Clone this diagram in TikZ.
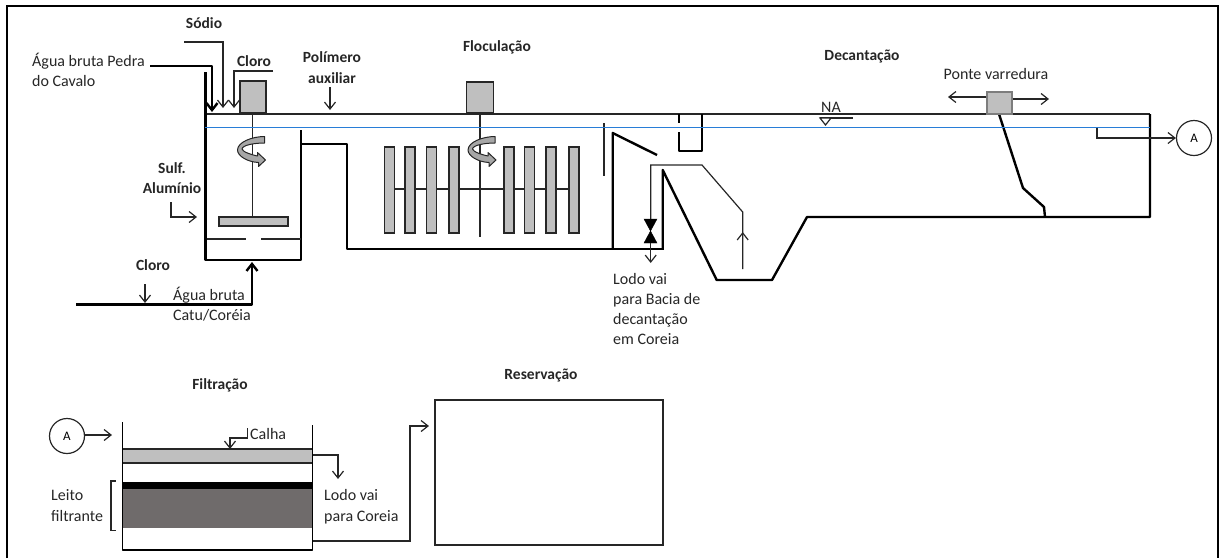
\documentclass[tikz,border=0pt]{standalone}
\usepackage{fontspec}
\setmainfont{Carlito}
\usetikzlibrary{arrows.meta}

\begin{document}
\begin{tikzpicture}[x=1pt, y=-1pt, >={Straight Barb[length=7pt,width=11pt]},
    thinLine/.style={draw=lineColour, line width=1.2pt},
    wallLine/.style={draw=black, line width=2.4pt, line join=round},
    grayBox/.style={draw=lineColour, fill=boxColour, line width=1.4pt},
    label/.style={font=\fontsize{16}{17}\selectfont, text=textColour, inner sep=0pt, align=left},
    title/.style={font=\bfseries\fontsize{15.5}{17}\selectfont, text=textColour, inner sep=0pt, align=center},
    letterCircle/.style={circle, draw=lineColour, line width=1.2pt, minimum size=35pt, inner sep=0pt, font=\fontsize{13}{15}\selectfont}]

    \definecolor{lineColour}{HTML}{262626}
    \definecolor{textColour}{HTML}{262626}
    \definecolor{boxColour}{HTML}{BFBFBF}
    \definecolor{waterColour}{RGB}{40,125,215}
    \definecolor{bedColour}{HTML}{6F6B6B}
    \definecolor{spinColour}{HTML}{A6A6A6}

    \useasboundingbox (0,0) rectangle (1221,558);

    % Draw outer frame
    \draw[line width=1.6pt] (7,558) -- (7,6) -- (1218,6) -- (1218,558);

    % Draw top line
    \draw[thinLine, line width=1.4pt] (207,114) -- (1150,114);

    % Draw mixing tank
    \draw[wallLine] (205.5,72) -- (205.5,260) -- (301,260) -- (301,130);
    \draw[thinLine] (207,239) -- (246,239) (261,239) -- (301,239);
    \draw[wallLine] (301,144) -- (347,144) -- (347,249) -- (664,249);

    % Draw mixer shafts
    \draw[thinLine] (252.5,113) -- (252.5,217);
    \draw[thinLine] (480,113) -- (480,237);
    \draw[thinLine] (394,189) -- (569,189);
    \node[grayBox, minimum width=26pt, minimum height=32pt, inner sep=0pt] (motorMix) at (253,97) {};
    \node[grayBox, minimum width=27pt, minimum height=31pt, inner sep=0pt] (motorFloc) at (480,97.5) {};
    \draw[grayBox] (219,217) rectangle (288,226);

    % Draw flocculation bars
    \foreach \x in {384.5,405,426.5,449,504,524.5,546,569}
        \draw[grayBox] (\x,147) rectangle (\x+10,233);

    % Draw settling tank walls
    \draw[thinLine, line width=1.5pt] (604,123) -- (604,176);
    \draw[wallLine] (612.7,249) -- (612.7,133) -- (657,155);
    \draw[wallLine] (662.7,249) -- (662.7,170) -- (716.7,280) -- (772,280) -- (807,217) -- (1150,217) -- (1150,114);
    \draw[wallLine, line width=1.8pt] (678.7,114) -- (678.7,123) (678.7,132) -- (678.7,150.7) -- (702,150.7) -- (702,114);

    % Draw sludge pipe and valve
    \draw[thinLine] (650.7,219) -- (650.7,165) -- (702,165) -- (742.7,212) -- (742.7,269);
    \draw[thinLine, ->] (742.7,269) -- (742.7,232);
    \draw[fill=black] (644,219) -- (657,219) -- (644,243) -- (657,243) -- cycle;
    \draw[thinLine, ->] (650.7,243) -- (650.7,263);

    % Draw sweeper bridge
    \draw[wallLine] (999,114) -- (1023,188) -- (1044,207) -- (1045,217);
    \node[grayBox, draw=lineColour!60, minimum width=25pt, minimum height=22pt, inner sep=0pt] (bridge) at (999.5,103) {};
    \coordinate (bridgeLeft) at (948,97);
    \coordinate (bridgeRight) at (1049,99);
    \draw[thinLine, ->] (bridge.west |- bridgeLeft) -- (bridgeLeft);
    \draw[thinLine, ->] (bridge.east |- bridgeRight) -- (bridgeRight);

    % Draw water level
    \fill[waterColour] (205,126.8) rectangle (1150,128.2);

    % Draw rotation symbols
    \foreach \cx in {252.5,483}
        \draw[draw=lineColour, fill=spinColour, line width=1pt, line join=round, shift={(\cx,150)}]
            (12,-13.5) -- (12,-7) .. controls (2,-7) and (-10,-5) .. (-10.5,-1)
            .. controls (-10,2) and (0,5) .. (5,6) -- (5,2.5) -- (13,10) -- (6,16.5) -- (6,12.5)
            .. controls (-5,12) and (-15,6) .. (-15,0)
            .. controls (-15,-8) and (0,-13.5) .. (12,-13.5) -- cycle;

    % Draw water level mark
    \draw[thinLine] (820,118) -- (853,118);
    \draw[thinLine, fill=white] (820,118) -- (831,118) -- (825.5,125) -- cycle;

    % Draw outlet
    \node[letterCircle] (outA) at (1194,138) {A};
    \draw[thinLine] (1097,127.5) -- (1097,138) -- (1150,138);
    \draw[thinLine, ->] (1150,138) -- (outA.west);

    % Draw inlets
    \draw[wallLine, ->] (150,66) -- (212,66) -- (212,112);
    \draw[thinLine, ->] (184,42) -- (223,42) -- (223,108);
    \draw[thinLine, ->] (273,71) -- (234,71) -- (234,108);
    \draw[thinLine, ->] (330,87) -- (330,110);
    \draw[thinLine, ->] (171,202) -- (171,217) -- (197,217);
    \draw[thinLine, ->] (145,284) -- (145,303);
    \draw[wallLine, ->] (76,304.5) -- (252,304.5) -- (252,262);

    % Draw filter
    \draw[draw=lineColour, fill=boxColour, line width=1.2pt] (122.5,449) rectangle (312.5,463);
    \fill[bedColour] (122.5,489) rectangle (312.5,528);
    \fill[black] (122.5,482) rectangle (312.5,489);
    \draw[wallLine, line width=1.9pt] (122.5,422) -- (122.5,550) -- (312.5,550) -- (312.5,425);
    \draw[thinLine] (115.5,481) -- (111,481) -- (111,530.5) -- (115.5,530.5);
    \draw[thinLine, ->] (247.5,428) -- (247.5,438) -- (230,438) -- (230,449);
    \draw[thinLine, ->] (312.5,455) -- (338,455) -- (338,479);

    % Draw filter inlet and reservoir
    \node[letterCircle] (inA) at (67,436) {A};
    \coordinate (filterIn) at (112,435);
    \draw[thinLine, ->] (inA.east |- filterIn) -- (filterIn);
    \node[draw=lineColour, line width=1.4pt, minimum width=228pt, minimum height=145pt, inner sep=0pt] (reservoir) at (549,472.5) {};
    \coordinate (reservoirIn) at (429,426);
    \draw[thinLine, ->] (312.5,541) -- (410,541) -- (410,426) -- (reservoirIn);

    % Label titles
    \node[title] (tSodio) at (204,23) {Sódio};
    \node[title] (tCloroTop) at (254,61) {Cloro};
    \node[title] (tPolimero) at (332,67.5) {Polímero\\[3.5pt]auxiliar};
    \node[title] (tFloc) at (497,47) {Floculação};
    \node[title] (tDecant) at (862,57) {Decantação};
    \node[title] (tSulf) at (172,178) {Sulf.\\[3.5pt]Alumínio};
    \node[title] (tCloroLow) at (153,265) {Cloro};
    \node[title] (tFiltro) at (220,385) {Filtração};
    \node[title] (tReserva) at (541,376) {Reservação};

    % Label texts
    \node[label, anchor=west] (lPedra) at (32,70) {Água bruta Pedra\\[3.5pt]do Cavalo};
    \node[label, anchor=west] (lCatu) at (173,304) {Água bruta\\[3.5pt]Catu/Coréia};
    \node[label, anchor=west] (lLodoBacia) at (613,309) {Lodo vai\\[3pt]para Bacia de\\[3pt]decantação\\[3pt]em Coreia};
    \node[label] (lNA) at (831,107) {NA};
    \node[label] (lPonte) at (996,74) {Ponte varredura};
    \node[label, anchor=west] (lCalha) at (250,434) {Calha};
    \node[label, anchor=west] (lLeito) at (51,505.5) {Leito\\[3.5pt]filtrante};
    \node[label, anchor=west] (lLodoCoreia) at (324,506.5) {Lodo vai\\[3.5pt]para Coreia};

\end{tikzpicture}
\end{document}
